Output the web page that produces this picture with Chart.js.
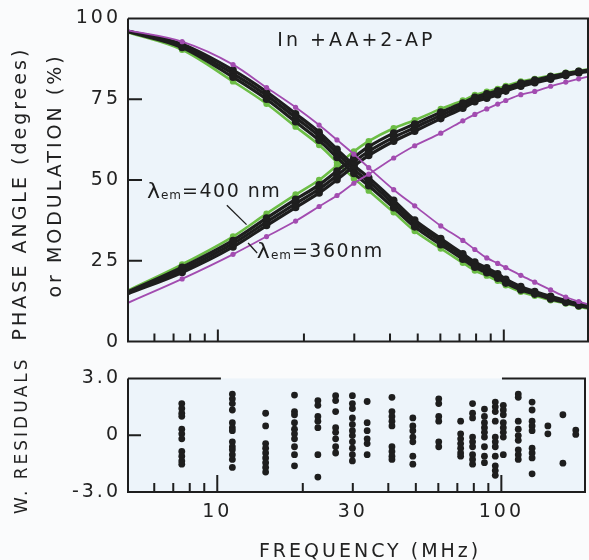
<!DOCTYPE html>
<html>
<head>
<meta charset="utf-8">
<script src="https://cdn.jsdelivr.net/npm/chart.js@4/dist/chart.umd.min.js"></script>
<style>
  body { margin: 0; background: #fafbfc; }
  canvas { position: absolute; left: 0; }
  #top { top: 0; }
  #bot { top: 360px; }
</style>
</head>
<body>
<canvas id="top" width="589" height="360"></canvas>
<canvas id="bot" width="589" height="200"></canvas>
<script>
// modulation frequencies (MHz); first and last are the ends of the fitted curves
const freqs = [4.85, 7.5, 11.3, 14.8, 18.7, 22.6, 26.1, 29.9, 33.7, 41.2, 48.8, 60.2, 71.9, 79.2, 87.2, 95.2, 101.6, 114.7, 128.3, 145.8, 164.7, 182.8, 197];

// lambda em = 360 nm (magenta)
const phase360 = [12.0, 19.4, 27.0, 32.5, 37.3, 41.8, 45.2, 49.0, 51.8, 56.8, 60.6, 64.5, 68.3, 70.3, 72.0, 73.5, 74.6, 76.4, 77.4, 79.0, 80.3, 81.3, 82.0];
const mod360 = [96.3, 92.8, 85.7, 78.6, 72.5, 67.0, 62.4, 58.0, 53.8, 47.0, 42.0, 35.8, 31.3, 28.5, 25.9, 24.2, 22.9, 20.5, 18.4, 16.0, 13.8, 12.4, 11.6];
// lambda em = 400 nm (green)
const phase400 = [15.8, 23.9, 32.5, 39.6, 45.5, 50.0, 54.5, 58.8, 62.0, 66.0, 68.5, 72.0, 74.6, 76.3, 77.3, 78.2, 79.1, 80.5, 81.3, 82.3, 83.2, 83.8, 84.2];
const mod400 = [95.7, 90.3, 80.5, 73.6, 66.5, 60.8, 55.5, 50.5, 46.7, 40.0, 34.2, 28.8, 24.4, 22.0, 20.4, 18.8, 17.4, 15.4, 14.2, 12.8, 11.8, 10.8, 10.2];
// intermediate wavelengths (black)
const phaseB1 = [15.4, 23.0, 31.3, 38.2, 44.0, 48.5, 52.8, 57.0, 60.3, 64.5, 67.3, 71.0, 73.8, 75.6, 76.7, 77.6, 78.5, 80.0, 80.9, 82.0, 82.9, 83.6, 84.0];
const phaseB2 = [15.1, 22.2, 30.3, 37.0, 42.7, 47.2, 51.4, 55.6, 58.9, 63.2, 66.2, 70.0, 73.0, 74.9, 76.0, 77.0, 78.0, 79.5, 80.5, 81.6, 82.6, 83.3, 83.8];
const phaseB3 = [14.8, 21.4, 29.3, 35.9, 41.5, 46.0, 50.1, 54.3, 57.6, 62.0, 65.1, 69.0, 72.2, 74.2, 75.3, 76.4, 77.5, 79.0, 80.1, 81.2, 82.3, 83.1, 83.6];
const modB1 = [95.9, 91.0, 81.8, 75.0, 68.0, 62.3, 57.0, 52.0, 48.2, 41.4, 35.5, 30.0, 25.5, 23.0, 21.3, 19.6, 18.1, 16.0, 14.7, 13.2, 12.1, 11.1, 10.5];
const modB2 = [96.0, 91.5, 82.9, 76.2, 69.3, 63.6, 58.3, 53.3, 49.5, 42.6, 36.6, 31.0, 26.4, 23.8, 22.1, 20.3, 18.7, 16.5, 15.1, 13.6, 12.4, 11.4, 10.8];
const modB3 = [96.1, 92.0, 84.0, 77.3, 70.5, 64.8, 59.5, 54.5, 50.7, 43.7, 37.6, 31.9, 27.2, 24.6, 22.8, 21.0, 19.3, 17.0, 15.5, 14.0, 12.7, 11.7, 11.0];

// weighted residuals, one column per frequency
const residFreqs = [7.5, 11.3, 14.8, 18.7, 22.6, 26.1, 29.9, 33.7, 41.2, 48.8, 60.2, 71.9, 79.2, 87.2, 95.2, 101.6, 114.7, 128.3, 145.8, 164.7, 182.8];
const residuals = [
  [1.67, 1.41, 1.16, 1.0, 0.32, 0.07, -0.19, -0.86, -1.11, -1.36, -1.53],
  [2.17, 1.92, 1.67, 1.33, 0.66, 0.40, 0.24, -0.35, -0.61, -0.77, -1.03, -1.28, -1.70],
  [1.16, 0.49, -0.44, -0.69, -0.94, -1.2, -1.45, -1.7, -1.95],
  [2.12, 1.25, 1.08, 0.66, 0.32, 0.07, -0.19, -0.61, -1.03, -1.62],
  [1.83, 1.58, 0.99, 0.74, 0.40, -1.03, -2.21],
  [2.09, 1.83, 1.25, 0.40, 0.15, -0.19, -0.61, -0.94],
  [2.09, 1.67, 1.41, 0.91, 0.57, 0.24, -0.02, -0.35, -0.69, -1.03, -1.36],
  [1.78, 0.66, 0.24, -0.19, -0.44, -1.03],
  [2.0, 1.25, 0.99, 0.74, 0.49, -0.61, -0.86, -1.11, -1.28],
  [0.91, 0.49, 0.24, -0.10, -0.35, -1.11, -1.53],
  [1.92, 1.67, 0.99, 0.74, -0.35, -0.61],
  [0.74, 0.07, -0.19, -0.44, -0.69, -0.94, -1.11],
  [1.67, 1.16, 0.91, -0.10, -0.35, -0.61, -1.03, -1.28, -1.53],
  [1.38, 0.99, 0.66, 0.40, 0.15, -0.10, -0.61, -1.11, -1.45],
  [1.75, 1.5, 1.25, 0.74, -0.10, -0.35, -0.61, -1.11, -1.62, -1.87, -2.12],
  [1.58, 1.33, 1.08, 0.66, 0.40, 0.15, -0.10, -1.03],
  [2.17, 2.0, 0.74, 0.32, -0.02, -0.27, -0.77, -1.03, -1.28],
  [1.75, 1.33, 0.74, 0.49, 0.24, -0.69, -0.94, -1.2, -2.04],
  [0.49, 0.07],
  [1.08, -1.48],
  [0.27, 0.04]
];

const xLabelTicks = [10, 30, 100];
const xMinorTicks = [6, 7, 8, 9, 20, 30, 40, 50, 60, 70, 80, 90];
const xMajorTicks = [10, 100];
const topYTicks = [0, 25, 50, 75, 100];
const residYTicks = [-3, 0, 3];
const residYLabels = ['-3.0', '0', '3.0'];

const INK = '#1e1e1e';
const MAGENTA = '#a24cb0';
const GREEN = '#6cbd45';
Chart.defaults.font.family = '"DejaVu Sans"';
Chart.defaults.font.size = 19;
Chart.defaults.color = '#222';

const frame = {
  id: 'frame',
  beforeDraw(chart, args, o) {
    const { ctx, chartArea: a } = chart;
    ctx.letterSpacing = '3px';
    ctx.save();
    ctx.fillStyle = '#edf4fa';
    ctx.fillRect(a.left, a.top, a.right - a.left, a.bottom - a.top);
    ctx.restore();
  },
  afterDatasetsDraw(chart, args, o) {
    const { ctx, chartArea: a, scales: { x, y } } = chart;
    ctx.save();
    ctx.strokeStyle = INK;
    ctx.lineWidth = 2;
    ctx.beginPath();
    ctx.moveTo(a.left, a.top);
    ctx.lineTo(a.left, a.bottom);
    ctx.lineTo(a.right, a.bottom);
    ctx.lineTo(a.right, a.top);
    if (o.topGap) {
      ctx.lineTo(x.getPixelForValue(o.topGap[1]), a.top);
      ctx.moveTo(x.getPixelForValue(o.topGap[0]), a.top);
      ctx.lineTo(a.left, a.top);
    } else {
      ctx.lineTo(a.left, a.top);
    }
    xMinorTicks.forEach(v => {
      const px = x.getPixelForValue(v);
      ctx.moveTo(px, a.bottom);
      ctx.lineTo(px, a.bottom - o.minorLen);
    });
    xMajorTicks.forEach(v => {
      const px = x.getPixelForValue(v);
      ctx.moveTo(px, a.bottom);
      ctx.lineTo(px, a.bottom - o.majorLen);
    });
    o.yTicks.forEach(v => {
      const py = y.getPixelForValue(v);
      ctx.moveTo(a.left, py);
      ctx.lineTo(a.left + o.yLen, py);
    });
    ctx.stroke();
    ctx.restore();
  }
};

const notes = {
  id: 'notes',
  afterDatasetsDraw(chart, args, o) {
    const { ctx, scales: { x, y } } = chart;
    ctx.save();
    ctx.fillStyle = INK;
    ctx.strokeStyle = INK;
    ctx.lineWidth = 1.3;
    ctx.textBaseline = 'middle';
    (o.items || []).forEach(n => {
      let px = x.getPixelForValue(n.f);
      const py = y.getPixelForValue(n.v);
      ctx.textAlign = n.align || 'left';
      n.parts.forEach(p => {
        ctx.font = (p.style || '') + ' ' + p.size + 'px "DejaVu Sans"';
        ctx.letterSpacing = (p.sp || 3) + 'px';
        ctx.fillText(p.text, px, py + (p.dy || 0));
        px += ctx.measureText(p.text).width;
      });
    });
    ctx.letterSpacing = '3px';
    (o.leaders || []).forEach(l => {
      ctx.beginPath();
      ctx.moveTo(x.getPixelForValue(l[0]), y.getPixelForValue(l[1]));
      ctx.lineTo(x.getPixelForValue(l[2]), y.getPixelForValue(l[3]));
      ctx.stroke();
    });
    ctx.restore();
  }
};

function series(values, color, lw, r, order) {
  const last = freqs.length - 1;
  return {
    data: freqs.map((f, i) => ({ x: f, y: values[i] })),
    borderColor: color,
    backgroundColor: color,
    borderWidth: lw,
    pointRadius: ctx => (ctx.dataIndex === 0 || ctx.dataIndex === last) ? 0 : r,
    pointBorderWidth: 0,
    cubicInterpolationMode: 'monotone',
    order: order
  };
}

const xAxis = (extra) => Object.assign({
  type: 'logarithmic',
  min: 4.85,
  max: 197,
  grid: { display: false, drawTicks: false },
  border: { display: false },
  afterBuildTicks: axis => { axis.ticks = xLabelTicks.map(v => ({ value: v })); }
}, extra);

new Chart(document.getElementById('top'), {
  type: 'line',
  data: {
    datasets: [
      series(phase360, MAGENTA, 1.8, 2.6, 0),
      series(mod360, MAGENTA, 1.8, 2.6, 0),
      series(phaseB1, INK, 3.2, 3.8, 1),
      series(phaseB2, INK, 3.2, 3.8, 1),
      series(phaseB3, INK, 3.2, 3.8, 1),
      series(modB1, INK, 3.2, 3.8, 1),
      series(modB2, INK, 3.2, 3.8, 1),
      series(modB3, INK, 3.2, 3.8, 1),
      series(phase400, GREEN, 2.6, 3.2, 2),
      series(mod400, GREEN, 2.6, 3.2, 2)
    ]
  },
  options: {
    responsive: false,
    animation: false,
    events: [],
    layout: { padding: { top: 18, right: 1, left: 0, bottom: 0 } },
    scales: {
      x: xAxis({
        ticks: { display: false },
        afterFit: s => { s.height = 13; }
      }),
      y: {
        min: 0,
        max: 100,
        grid: { display: false, drawTicks: false },
        border: { display: false },
        afterBuildTicks: axis => { axis.ticks = topYTicks.map(v => ({ value: v })); },
        ticks: { autoSkip: false, padding: 7 },
        title: {
          display: true,
          text: ['PHASE ANGLE (degrees)   ', ' or MODULATION (%)'],
          font: { size: 19, lineHeight: 1.84 },
          padding: { top: 4, bottom: 0 }
        },
        afterFit: s => { s.width = 128; }
      }
    },
    plugins: {
      legend: { display: false },
      tooltip: { enabled: false },
      frame: { minorLen: 8, majorLen: 12, yTicks: [25, 50, 75], yLen: 14 },
      notes: {
        items: [
          { f: 30.5, v: 93, align: 'center', parts: [{ text: 'In +AA+2-AP', size: 19 }] },
          { f: 5.65, v: 46.2, parts: [
            { text: 'λ', size: 22, sp: 1 },
            { text: 'em', size: 12, dy: 4, sp: 1 },
            { text: '=400 nm', size: 19, sp: 1.5 }
          ] },
          { f: 13.69, v: 27.7, parts: [
            { text: 'λ', size: 22, sp: 1 },
            { text: 'em', size: 12, dy: 4, sp: 1 },
            { text: '=360nm', size: 19, sp: 1.5 }
          ] }
        ],
        leaders: [[10.75, 42.2, 12.6, 36.2], [12.76, 30.5, 13.72, 27.4]]
      }
    }
  },
  plugins: [frame, notes]
});

const residPoints = [];
residFreqs.forEach((f, i) => residuals[i].forEach(v => residPoints.push({ x: f, y: v })));

new Chart(document.getElementById('bot'), {
  type: 'scatter',
  data: {
    datasets: [{
      data: residPoints,
      backgroundColor: INK,
      borderWidth: 0,
      pointRadius: 3.4
    }]
  },
  options: {
    responsive: false,
    animation: false,
    events: [],
    layout: { padding: { top: 13, right: 1, left: 0, bottom: 0 } },
    scales: {
      x: xAxis({
        ticks: { padding: 9, autoSkip: false, maxRotation: 0, callback: v => String(v) },
        title: {
          display: true,
          text: '   FREQUENCY (MHz)',
          font: { size: 19, lineHeight: 1 },
          padding: { top: 0, bottom: -2 }
        },
        afterFit: s => { s.height = 68; }
      }),
      y: {
        min: -3,
        max: 3,
        grid: { display: false, drawTicks: false },
        border: { display: false },
        afterBuildTicks: axis => { axis.ticks = residYTicks.map(v => ({ value: v })); },
        ticks: { autoSkip: false, padding: 7, callback: v => residYLabels[residYTicks.indexOf(v)] },
        title: {
          display: true,
          text: 'W. RESIDUALS',
          font: { size: 17 },
          padding: { top: 12, bottom: 0 }
        },
        afterFit: s => { s.width = 128; }
      }
    },
    plugins: {
      legend: { display: false },
      tooltip: { enabled: false },
      frame: { minorLen: 9, majorLen: 17, yTicks: [0], yLen: 13, topGap: [10.3, 100.5] }
    }
  },
  plugins: [frame]
});
</script>
</body>
</html>
